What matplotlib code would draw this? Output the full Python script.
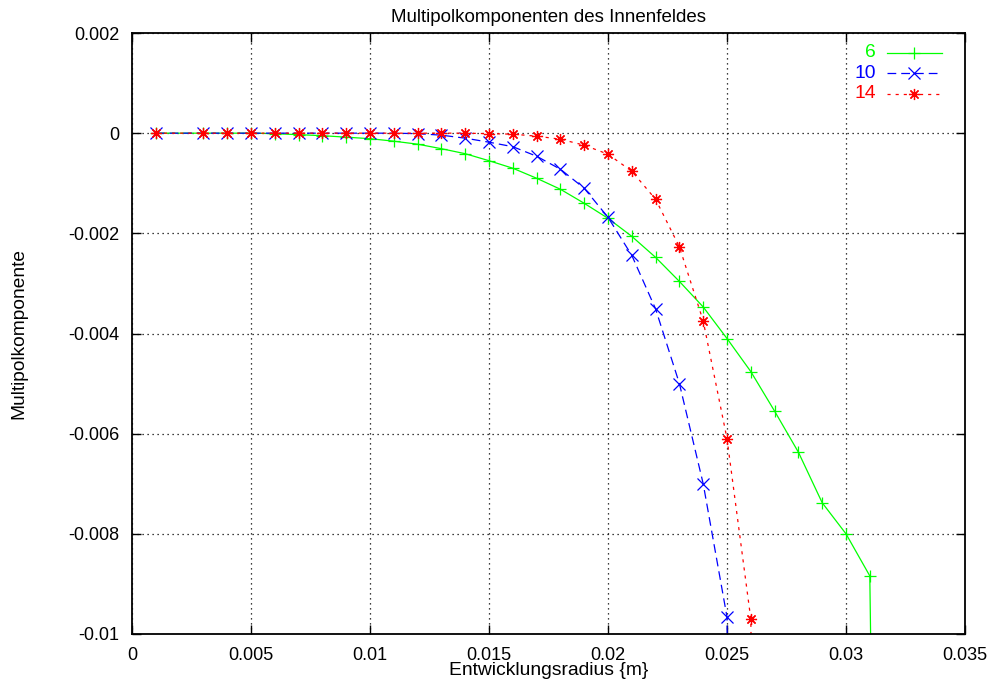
import matplotlib
matplotlib.use("Agg")
import matplotlib.pyplot as plt
from matplotlib.ticker import FuncFormatter

plt.rcParams["font.family"] = ["Liberation Sans", "DejaVu Sans"]
plt.rcParams["font.size"] = 13

# expansion radius [m]; no sample at 0.002
r6 = [0.001, 0.003, 0.004, 0.005, 0.006, 0.007, 0.008, 0.009, 0.010, 0.011,
      0.012, 0.013, 0.014, 0.015, 0.016, 0.017, 0.018, 0.019, 0.020, 0.021,
      0.022, 0.023, 0.024, 0.025, 0.026, 0.027, 0.028, 0.029, 0.030, 0.031,
      0.032]
m6 = [0.0, 0.0, 0.0, 0.0, -0.00001, -0.00003, -0.00005, -0.00008, -0.00011,
      -0.00016, -0.00022, -0.00031, -0.00041, -0.00055, -0.0007, -0.0009,
      -0.00112, -0.0014, -0.0017, -0.00206, -0.00248, -0.00296, -0.00347,
      -0.0041, -0.00476, -0.00555, -0.00637, -0.00738, -0.008, -0.00884,
      -0.0434]

r10 = r6[:25]
m10 = [0.0, 0.0, 0.0, 0.0, 0.0, 0.0, 0.0, 0.0, 0.0, 0.0, -0.00001,
       -0.00004, -0.0001, -0.00018, -0.00027, -0.00046, -0.00072, -0.0011,
       -0.00168, -0.00244, -0.00351, -0.005, -0.007, -0.00966, -0.050]

r14 = r6[:26]
m14 = [0.0, 0.0, 0.0, 0.0, 0.0, 0.0, 0.0, 0.0, 0.0, 0.0, 0.0, 0.0, 0.0,
       -0.00001, -0.00002, -0.00006, -0.00012, -0.00024, -0.00042, -0.00076,
       -0.00132, -0.00227, -0.00375, -0.0061, -0.0097, -0.043]

labels = ["6", "10", "14"]
colors = ["#00ff00", "#0000ff", "#ff0000"]
styles = ["-", (0, (7, 4)), (0, (2.5, 4))]
markers = ["+", "x", (8, 2, 0)]

xticks = [0, 0.005, 0.01, 0.015, 0.02, 0.025, 0.03, 0.035]
yticks = [0.002, 0, -0.002, -0.004, -0.006, -0.008, -0.01]

fig = plt.figure(figsize=(9.92, 6.86), dpi=100)
ax = fig.add_axes([132 / 992, 1 - 634 / 686, 833 / 992, 601 / 686])

series = [(r6, m6), (r10, m10), (r14, m14)]
for (x, y), lab, c, ls, mk in zip(series, labels, colors, styles, markers):
    ax.plot(x, y, color=c, ls=ls, lw=0.9, marker=mk, ms=8, mew=0.9,
            label=lab)

ax.set_xlim(0, 0.035)
ax.set_ylim(-0.01, 0.002)
ax.set_xticks(xticks)
ax.set_yticks(yticks)
fmt = FuncFormatter(lambda v, p: "%g" % round(v, 6))
ax.xaxis.set_major_formatter(fmt)
ax.yaxis.set_major_formatter(fmt)
ax.tick_params(direction="in", length=6.5, width=1, top=True, right=True,
               pad=9)
ax.grid(True, color="black", ls=(0, (1, 3)), lw=0.9)
for sp in ax.spines.values():
    sp.set_linewidth(1.3)

ax.set_title("Multipolkomponenten des Innenfeldes", fontsize=13.5, pad=8)
ax.set_xlabel("Entwicklungsradius {m}", fontsize=13.9, labelpad=-1)
ax.set_ylabel("Multipolkomponente", fontsize=13.8)
ax.yaxis.set_label_coords(-0.126, 0.5)

# key in the upper right, labels right-aligned before the samples
ky = [0.967, 0.933, 0.899]
for lab, c, ls, mk, yy in zip(labels, colors, styles, markers, ky):
    ax.text(0.893, yy, lab, color=c, ha="right", va="center",
            fontsize=13.9, transform=ax.transAxes)
    ax.plot([0.906, 0.972], [yy, yy], color=c, ls=ls, lw=0.9,
            transform=ax.transAxes, clip_on=False)
    ax.plot([0.939], [yy], color=c, marker=mk, ms=8, mew=0.9,
            transform=ax.transAxes, clip_on=False)

fig.savefig("out.png", dpi=100)
